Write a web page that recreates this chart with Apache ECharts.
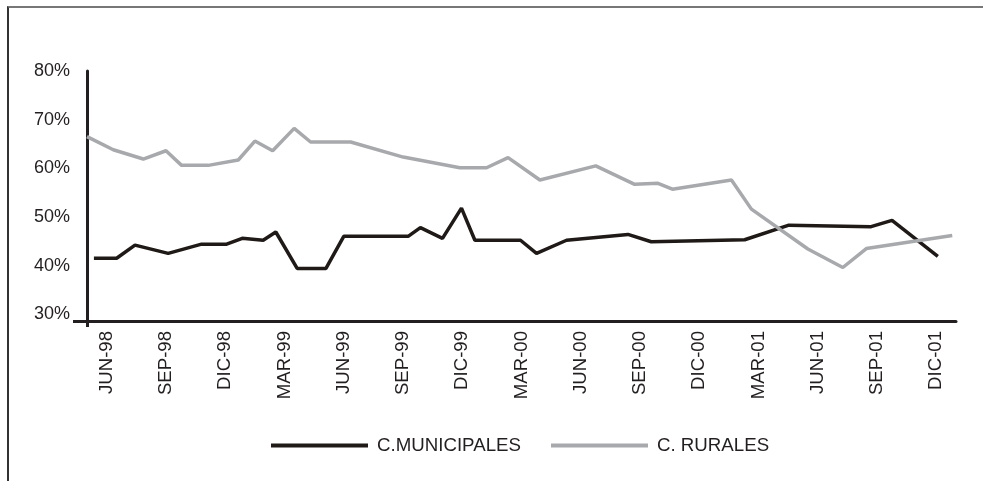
<!DOCTYPE html>
<html>
<head>
<meta charset="utf-8">
<script src="https://cdn.jsdelivr.net/npm/echarts@6/dist/echarts.min.js"></script>
<style>
  html, body { margin: 0; padding: 0; background: #fff; }
  #chart { position: absolute; left: 0; top: 0; width: 983px; height: 481px; }
  #marco { position: absolute; left: 7px; top: 6px; right: 0; bottom: 0;
           border-top: 2px solid #777; border-left: 2px solid #333; pointer-events: none; }
</style>
</head>
<body>
<div id="chart"></div>
<div id="marco"></div>
<script>
// meses contados desde MAY-98 (0) hasta ENE-02 (44)
const tickMeses = [1, 4, 7, 10, 13, 16, 19, 22, 25, 28, 31, 34, 37, 40, 43];
const tickLabels = ["JUN-98", "SEP-98", "DIC-98", "MAR-99", "JUN-99", "SEP-99", "DIC-99",
  "MAR-00", "JUN-00", "SEP-00", "DIC-00", "MAR-01", "JUN-01", "SEP-01", "DIC-01"];

// C.MUNICIPALES
const munMes = [0.35, 1.5, 2.43, 4.11, 5.8, 7.07, 7.86, 8.92, 9.56, 10.64, 12.1, 13.0, 16.26, 16.88,
  18.0, 18.96, 19.64, 21.95, 22.76, 24.28, 27.39, 28.57, 33.3, 35.54, 39.7, 40.76, 43.08];
const munVal = [41.5, 41.5, 44.2, 42.5, 44.4, 44.4, 45.6, 45.2, 46.9, 39.4, 39.4, 46.0, 46.0, 47.8,
  45.6, 51.8, 45.2, 45.2, 42.5, 45.2, 46.4, 44.9, 45.3, 48.3, 48.0, 49.3, 41.9];

// C. RURALES
const rurMes = [0, 1.33, 2.85, 4.0, 4.79, 6.14, 7.66, 8.5, 9.4, 10.49, 11.32, 13.35, 16.01, 18.88,
  20.23, 21.32, 22.93, 25.76, 27.73, 28.91, 29.64, 32.63, 33.64, 36.5, 38.27, 39.46, 43.81];
const rurVal = [66.5, 63.8, 61.9, 63.6, 60.6, 60.6, 61.7, 65.6, 63.6, 68.2, 65.4, 65.4, 62.3, 60.1,
  60.1, 62.2, 57.6, 60.5, 56.7, 56.9, 55.7, 57.6, 51.6, 43.4, 39.6, 43.5, 46.2];

const yLabels = [30, 40, 50, 60, 70, 80];

const fontColor = "#231f20";
const fontName = "Liberation Sans";

const pares = (xs, ys) => xs.map((x, i) => [x, ys[i]]);

const chart = echarts.init(document.getElementById("chart"));

chart.setOption({
  animation: false,
  textStyle: { fontFamily: fontName },
  grid: {
    left: 87,
    right: 27,
    top: 71,
    bottom: 160,
    containLabel: false,
  },
  legend: {
    left: 266,
    top: 431,
    itemWidth: 97,
    itemHeight: 4,
    itemGap: 30,
    icon: "rect",
    textStyle: {
      color: fontColor,
      fontSize: 18.7,
      fontFamily: fontName,
      padding: [0, 0, 0, 4],
    },
    data: ["C.MUNICIPALES", "C. RURALES"],
  },
  xAxis: {
    type: "value",
    min: 0,
    max: 44,
    splitLine: { show: false },
    axisLine: {
      show: true,
      onZero: false,
      lineStyle: { color: fontColor, width: 3 },
    },
    axisTick: {
      show: true,
      customValues: [0],
      length: 6,
      lineStyle: { color: fontColor, width: 3 },
    },
    axisLabel: {
      customValues: tickMeses,
      rotate: 90,
      margin: 10,
      color: fontColor,
      fontSize: 18.6,
      fontFamily: fontName,
      formatter: (v) => tickLabels[tickMeses.indexOf(Math.round(v))] || "",
    },
  },
  yAxis: {
    type: "value",
    min: 28.6,
    max: 80,
    splitLine: { show: false },
    axisLine: {
      show: true,
      lineStyle: { color: fontColor, width: 3 },
    },
    axisTick: {
      show: true,
      customValues: [28.6],
      length: 14,
      lineStyle: { color: fontColor, width: 3 },
    },
    axisLabel: {
      customValues: yLabels,
      margin: 17,
      color: fontColor,
      fontSize: 18,
      fontFamily: fontName,
      formatter: "{value}%",
    },
  },
  series: [
    {
      name: "C.MUNICIPALES",
      type: "line",
      symbol: "none",
      color: "#1f1a17",
      lineStyle: { color: "#1f1a17", width: 3.5 },
      data: pares(munMes, munVal),
    },
    {
      name: "C. RURALES",
      type: "line",
      symbol: "none",
      color: "#a7a9ac",
      lineStyle: { color: "#a7a9ac", width: 3.5 },
      data: pares(rurMes, rurVal),
    },
  ],
});
</script>
</body>
</html>
